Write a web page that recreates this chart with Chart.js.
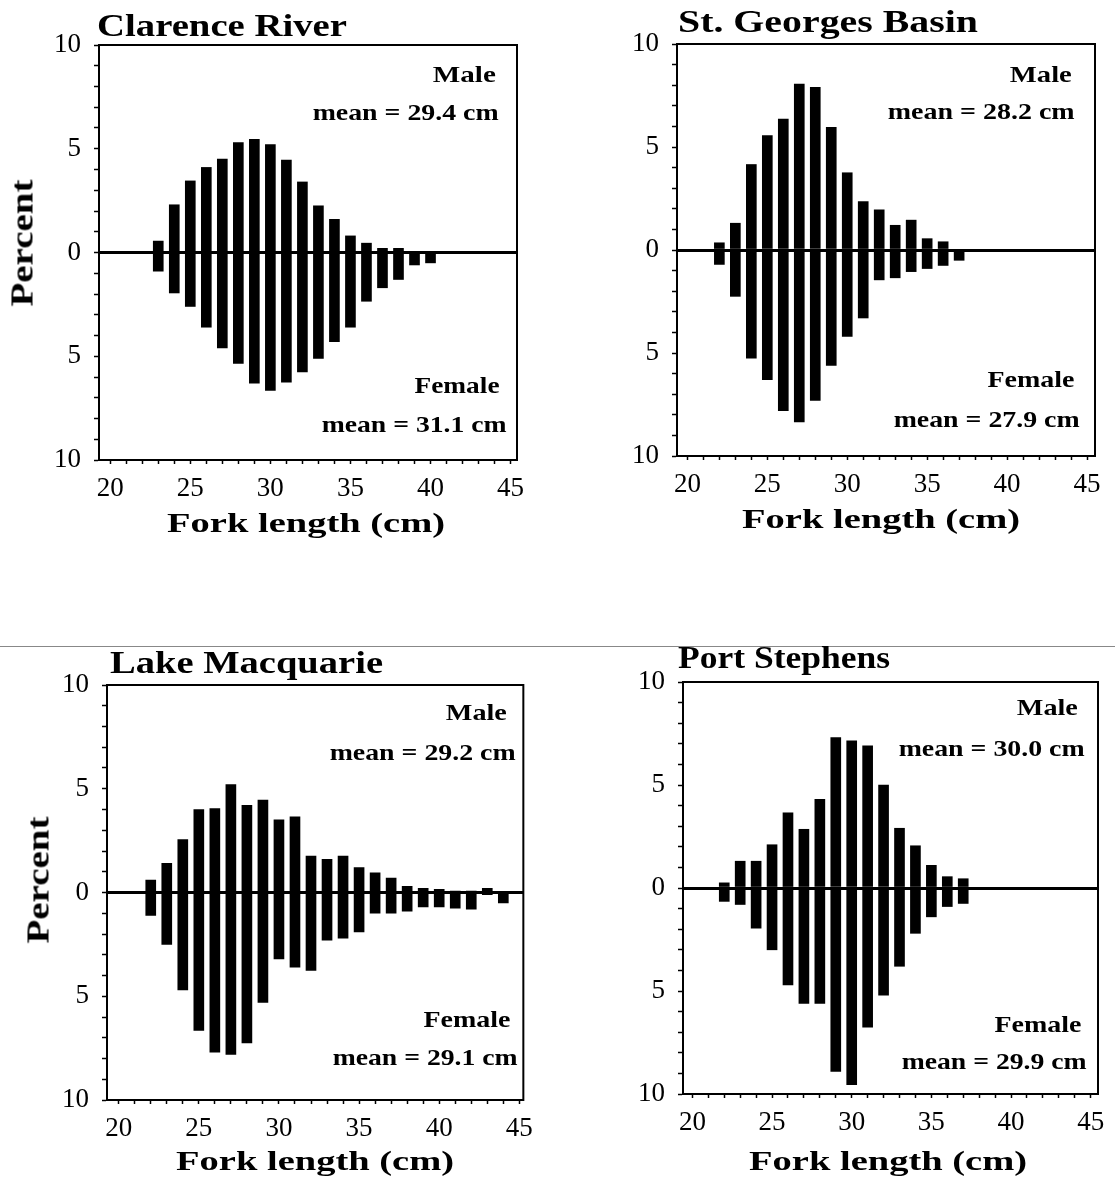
<!DOCTYPE html>
<html>
<head>
<meta charset="utf-8">
<script src="https://cdn.jsdelivr.net/npm/chart.js@4.4.1/dist/chart.umd.min.js"></script>
<style>
  body { margin: 0; background: #fff; width: 1115px; height: 1191px; position: relative; overflow: hidden; font-family: "Liberation Serif", serif; color: #000; }
  .lbl { position: absolute; white-space: nowrap; line-height: 1; font-weight: bold; }
  .rule { position: absolute; left: 0; top: 646px; width: 1115px; border-top: 1px solid #888; }
</style>
</head>
<body>
<div class="rule"></div>
<script>
// fork length classes (cm) and percent of fish, male above / female below
const clarenceLength = [23, 24, 25, 26, 27, 28, 29, 30, 31, 32, 33, 34, 35, 36, 37, 38, 39, 40];
const clarenceMale   = [0.55, 2.3, 3.45, 4.1, 4.5, 5.3, 5.45, 5.2, 4.45, 3.4, 2.25, 1.6, 0.8, 0.45, 0.2, 0.2, 0, 0];
const clarenceFemale = [0.9, 1.95, 2.6, 3.6, 4.6, 5.35, 6.3, 6.65, 6.25, 5.75, 5.1, 4.3, 3.6, 2.35, 1.7, 1.3, 0.6, 0.5];

const stGeorgesLength = [22, 23, 24, 25, 26, 27, 28, 29, 30, 31, 32, 33, 34, 35, 36, 37];
const stGeorgesMale   = [0.35, 1.3, 4.15, 5.55, 6.35, 8.05, 7.9, 5.95, 3.75, 2.35, 1.95, 1.2, 1.45, 0.55, 0.4, 0];
const stGeorgesFemale = [0.7, 2.25, 5.25, 6.3, 7.8, 8.35, 7.3, 5.6, 4.2, 3.3, 1.45, 1.35, 1.05, 0.9, 0.75, 0.5];

const macquarieLength = [22, 23, 24, 25, 26, 27, 28, 29, 30, 31, 32, 33, 34, 35, 36, 37, 38, 39, 40, 41, 42, 43, 44];
const macquarieMale   = [0.6, 1.4, 2.55, 4.0, 4.05, 5.2, 4.2, 4.45, 3.5, 3.65, 1.75, 1.6, 1.75, 1.2, 0.95, 0.7, 0.3, 0.2, 0.15, 0.05, 0.05, 0.2, 0];
const macquarieFemale = [1.1, 2.5, 4.7, 6.65, 7.7, 7.8, 7.25, 5.3, 3.2, 3.6, 3.75, 2.3, 2.2, 1.9, 1.0, 1.0, 0.9, 0.7, 0.7, 0.75, 0.8, 0.1, 0.5];

const stephensLength = [22, 23, 24, 25, 26, 27, 28, 29, 30, 31, 32, 33, 34, 35, 36, 37];
const stephensMale   = [0.25, 1.3, 1.3, 2.1, 3.65, 2.85, 4.3, 7.3, 7.15, 6.9, 5.0, 2.9, 2.05, 1.1, 0.55, 0.45];
const stephensFemale = [0.65, 0.8, 1.95, 3.0, 4.7, 5.6, 5.6, 8.9, 9.55, 6.75, 5.2, 3.8, 2.2, 1.4, 0.9, 0.75];

const siteNames = ['Clarence River', 'St. Georges Basin', 'Lake Macquarie', 'Port Stephens'];
const maleMeans = ['29.4', '28.2', '29.2', '30.0'];
const femaleMeans = ['31.1', '27.9', '29.1', '29.9'];
const yTickLabels = [10, 5, 0, 5, 10];

const FONT = '"Liberation Serif", serif';

// draw the plot box on top / right as well
const frame = {
  id: 'frame',
  afterDraw(chart) {
    const { ctx, chartArea: a } = chart;
    ctx.save();
    ctx.strokeStyle = '#000';
    ctx.lineWidth = 2;
    ctx.strokeRect(a.left, a.top, a.right - a.left, a.bottom - a.top);
    ctx.restore();
  }
};

const panels = [
  { length: clarenceLength, male: clarenceMale, female: clarenceFemale,
    area: { l: 99, r: 517, t: 45, b: 460 }, xMin: 19.3, xMax: 45.4,
    title: { x: 97, base: 36, w: 250 },
    notes: [[496, 82, 63], [499, 120, 186], [500, 393, 85], [507, 432, 185]],
    axis: { cx: 306, base: 532 }, percent: { cx: 22, cy: 243 } },
  { length: stGeorgesLength, male: stGeorgesMale, female: stGeorgesFemale,
    area: { l: 677, r: 1095, t: 44, b: 456 }, xMin: 19.35, xMax: 45.5,
    title: { x: 678, base: 32, w: 300 },
    notes: [[1072, 82, 62], [1075, 119, 187], [1075, 387, 87], [1080, 427, 186]],
    axis: { cx: 881, base: 528 } },
  { length: macquarieLength, male: macquarieMale, female: macquarieFemale,
    area: { l: 107, r: 525, t: 685, b: 1100 }, xMin: 19.27, xMax: 45.25,
    title: { x: 110, base: 673, w: 273 },
    notes: [[507, 720, 61], [516, 760, 186], [511, 1027, 87], [518, 1065, 185]],
    axis: { cx: 315, base: 1170 }, percent: { cx: 38, cy: 880 } },
  { length: stephensLength, male: stephensMale, female: stephensFemale,
    area: { l: 683, r: 1098, t: 682, b: 1094 }, xMin: 19.41, xMax: 45.46,
    title: { x: 678, base: 668, w: 212 },
    notes: [[1078, 715, 61], [1085, 756, 186], [1082, 1032, 87], [1087, 1069, 185]],
    axis: { cx: 888, base: 1170 } }
];

// text placed by baseline and stretched to the measured width
function addLabel(text, size, opt) {
  const el = document.createElement('div');
  el.className = 'lbl';
  el.style.fontSize = size + 'px';
  el.textContent = text;
  document.body.appendChild(el);
  const w = el.getBoundingClientRect().width;
  const sx = opt.w ? opt.w / w : 1;
  el.style.top = (opt.base - 0.8375 * size) + 'px';
  if (opt.align === 'right') {
    el.style.left = (opt.x - w) + 'px';
    el.style.transformOrigin = 'right center';
  } else if (opt.align === 'center') {
    el.style.left = (opt.x - w / 2) + 'px';
    el.style.transformOrigin = 'center center';
  } else {
    el.style.left = opt.x + 'px';
    el.style.transformOrigin = 'left center';
  }
  el.style.transform = `scaleX(${sx})`;
}

function addPercent(cx, cy) {
  const el = document.createElement('div');
  el.className = 'lbl';
  el.style.fontSize = '31px';
  el.textContent = 'Percent';
  document.body.appendChild(el);
  const w = el.getBoundingClientRect().width;
  el.style.left = cx + 'px';
  el.style.top = cy + 'px';
  el.style.transform = `translate(-50%, -50%) rotate(-90deg) scaleX(${127 / w})`;
}

function makeChart(p) {
  const padTop = 30, padRight = 17, yW = 80, xH = 60;
  const w = (p.area.r - p.area.l) + yW + padRight;
  const h = (p.area.b - p.area.t) + padTop + xH;
  const cv = document.createElement('canvas');
  cv.width = w;
  cv.height = h;
  cv.style.cssText = `position:absolute;left:${p.area.l - yW}px;top:${p.area.t - padTop}px;width:${w}px;height:${h}px`;
  document.body.appendChild(cv);

  new Chart(cv.getContext('2d'), {
    type: 'bar',
    data: {
      datasets: [{
        label: 'Male',
        data: p.length.map((x, i) => ({ x: x, y: p.male[i] })),
        backgroundColor: '#000',
        barThickness: 10,
        grouped: false
      }, {
        label: 'Female',
        data: p.length.map((x, i) => ({ x: x, y: -p.female[i] })),
        backgroundColor: '#000',
        barThickness: 10,
        grouped: false
      }]
    },
    options: {
      responsive: false,
      animation: false,
      events: [],
      layout: { padding: { top: padTop, right: padRight, left: 0, bottom: 0 } },
      plugins: { legend: { display: false }, tooltip: { enabled: false } },
      scales: {
        x: {
          type: 'linear',
          min: p.xMin,
          max: p.xMax,
          offset: false,
          grid: { offset: false, drawOnChartArea: false, tickLength: 4, tickColor: '#000', tickWidth: 1.5 },
          border: { color: '#000', width: 2 },
          ticks: {
            stepSize: 1, autoSkip: false, maxRotation: 0, includeBounds: false, padding: 9,
            color: '#000', font: { family: FONT, size: 27 },
            callback: v => (v % 5 === 0 ? String(v) : '')
          },
          afterFit: s => { s.height = xH; }
        },
        y: {
          min: -10,
          max: 10,
          grid: {
            color: c => (c.tick && c.tick.value === 0 ? '#000' : 'rgba(0,0,0,0)'),
            lineWidth: c => (c.tick && c.tick.value === 0 ? 3 : 1),
            tickLength: 5, tickColor: '#000', tickWidth: 1.5
          },
          border: { color: '#000', width: 2 },
          ticks: {
            stepSize: 1, autoSkip: false, includeBounds: false, padding: 13,
            color: '#000', font: { family: FONT, size: 27 },
            callback: v => (v % 5 === 0 ? String(yTickLabels[(v + 10) / 5]) : '')
          },
          afterFit: s => { s.width = yW; }
        }
      }
    },
    plugins: [frame]
  });
}

panels.forEach((p, i) => {
  makeChart(p);
  addLabel(siteNames[i], 32, { x: p.title.x, base: p.title.base, w: p.title.w });
  const n = p.notes;
  addLabel('Male', 23, { x: n[0][0], base: n[0][1], w: n[0][2], align: 'right' });
  addLabel(`mean = ${maleMeans[i]} cm`, 23, { x: n[1][0], base: n[1][1], w: n[1][2], align: 'right' });
  addLabel('Female', 23, { x: n[2][0], base: n[2][1], w: n[2][2], align: 'right' });
  addLabel(`mean = ${femaleMeans[i]} cm`, 23, { x: n[3][0], base: n[3][1], w: n[3][2], align: 'right' });
  addLabel('Fork length (cm)', 28, { x: p.axis.cx, base: p.axis.base, w: 278, align: 'center' });
  if (p.percent) addPercent(p.percent.cx, p.percent.cy);
});
</script>
</body>
</html>
